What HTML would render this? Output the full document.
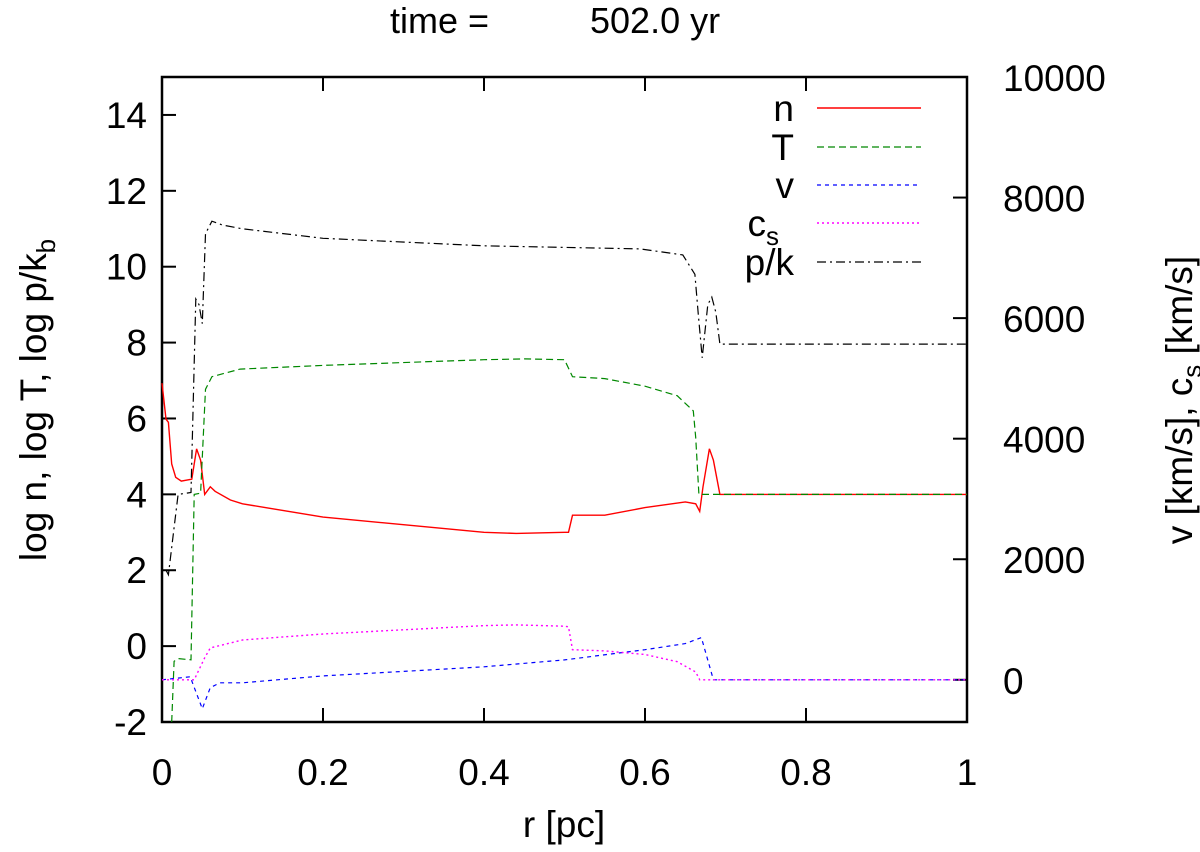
<!DOCTYPE html>
<html><head><meta charset="utf-8"><style>
body{margin:0;background:#fff}
svg text{font-family:"Liberation Sans",sans-serif;fill:#000}
</style></head><body>
<svg width="1200" height="847" xmlns="http://www.w3.org/2000/svg">
<g id="axes"></g>
<g id="series"></g>
<g id="legend"></g>
<text x="390" y="33" font-size="36">time =<tspan x="590">502.0 yr</tspan></text>
<text x="564" y="837" font-size="37" text-anchor="middle">r [pc]</text>
<text transform="translate(46,400) rotate(-90)" font-size="37" text-anchor="middle">log n, log T, log p/k<tspan font-size="26" dy="9">b</tspan></text>
<text transform="translate(1192,400) rotate(-90)" font-size="37" text-anchor="middle">v [km/s], c<tspan font-size="26" dy="9">s</tspan><tspan dy="-9"> [km/s]</tspan></text>
</svg>
<script>
const xTicks=[0,0.2,0.4,0.6,0.8,1];
const xTickLabels=["0","0.2","0.4","0.6","0.8","1"];
const yLeftTicks=[-2,0,2,4,6,8,10,12,14];
const yRightTicks=[0,2000,4000,6000,8000,10000];
const rN=[0,0.005,0.008,0.012,0.017,0.024,0.037,0.043,0.048,0.053,0.06,0.066,0.085,0.1,0.2,0.3,0.4,0.44,0.5,0.505,0.51,0.55,0.6,0.65,0.663,0.668,0.672,0.68,0.685,0.693,1];
const logN=[6.93,5.98,5.9,4.8,4.45,4.35,4.4,5.2,4.9,4.0,4.2,4.08,3.85,3.75,3.4,3.2,3.0,2.97,3.0,3.0,3.45,3.45,3.65,3.8,3.75,3.55,4.2,5.2,4.9,4.0,4.0];
const rT=[0.012,0.015,0.02,0.036,0.04,0.048,0.054,0.062,0.097,0.2,0.4,0.45,0.5,0.51,0.55,0.6,0.64,0.66,0.663,0.667,1];
const logT=[-2,-0.4,-0.33,-0.36,4.0,4.03,6.77,7.1,7.3,7.4,7.55,7.57,7.55,7.1,7.05,6.85,6.6,6.2,5.5,4.0,4.0];
const rV=[0,0.035,0.05,0.06,0.072,0.1,0.2,0.3,0.4,0.5,0.6,0.65,0.67,0.685,1];
const vel=[0,50,-480,-130,-50,-50,65,140,215,330,500,600,700,0,0];
const rC=[0,0.04,0.053,0.06,0.1,0.2,0.3,0.4,0.44,0.5,0.505,0.51,0.55,0.6,0.64,0.663,0.668,1];
const cs=[0,0,365,530,660,760,830,900,910,890,880,500,480,420,300,130,0,0];
const rP=[0.005,0.008,0.02,0.036,0.042,0.046,0.05,0.054,0.062,0.075,0.1,0.2,0.4,0.594,0.647,0.662,0.666,0.671,0.678,0.683,0.688,0.693,1];
const logP=[2.0,1.88,4.0,4.05,9.15,9.0,8.5,10.87,11.2,11.1,11.0,10.75,10.55,10.47,10.31,9.8,8.8,7.6,9.0,9.2,8.8,7.96,7.96];
const seriesNames=["n","T","v","c_s","p/k"];

const X0=162,X1=967,Y0=722,YT=77;
const xs=r=>X0+(X1-X0)*r;
const yl=v=>Y0-(Y0-YT)*(v+2)/17;
const yr=v=>Y0-(Y0-YT)*(v+700)/10700;
const NS="http://www.w3.org/2000/svg";
function mk(tag,attrs,parent){const e=document.createElementNS(NS,tag);for(const k in attrs)e.setAttribute(k,attrs[k]);parent.appendChild(e);return e;}
const axes=document.getElementById('axes');
const frame=mk('rect',{x:X0,y:YT,width:X1-X0,height:Y0-YT,fill:'none',stroke:'#000','stroke-width':2.5},axes);


xTicks.forEach((t,i)=>{const x=xs(t);
 const l=mk('path',{d:`M${x},${Y0}v-14M${x},${YT}v14`,stroke:'#000','stroke-width':2},axes);
 
 
 const tx=mk('text',{x:x,y:Y0+63,'font-size':37,'text-anchor':'middle'},axes);tx.textContent=xTickLabels[i];
 
 });
yLeftTicks.forEach(t=>{const y=yl(t);
 const l=mk('path',{d:`M${X0},${y}h14`,stroke:'#000','stroke-width':2},axes);
 
 
 const tx=mk('text',{x:X0-15,y:y+13,'font-size':37,'text-anchor':'end'},axes);tx.textContent=String(t);
 
 });
yRightTicks.forEach(t=>{const y=yr(t);
 const l=mk('path',{d:`M${X1},${y}h-14`,stroke:'#000','stroke-width':2},axes);
 
 
 const tx=mk('text',{x:X1+36,y:y+14,'font-size':37},axes);tx.textContent=String(t);
 
 });
const ser=document.getElementById('series');
const styles=[['#f00','none',1.4],['#080','7,4',1.2],['#00f','4,4',1.2],['#f0f','2,3',1.4],['#000','9,4,2,4',1.2]];
const defs=[[rN,logN,yl],[rT,logT,yl],[rV,vel,yr],[rC,cs,yr],[rP,logP,yl]];
const names=['series-n','series-t','series-v','series-cs','series-pk'];
defs.forEach((d,i)=>{const [xa,ya,f]=d;
 const pts=xa.map((r,j)=>`${xs(r).toFixed(1)},${Math.min(Y0,f(ya[j])).toFixed(1)}`).join(' ');
 const p=mk('polyline',{points:pts,fill:'none',stroke:styles[i][0],'stroke-width':styles[i][2],'stroke-dasharray':styles[i][1]},ser);
 
 });
const leg=document.getElementById('legend');
const ly=[108,147,185,223,262];
seriesNames.forEach((n,i)=>{
 const l=mk('line',{x1:817,x2:921,y1:ly[i],y2:ly[i],stroke:styles[i][0],'stroke-width':styles[i][2],'stroke-dasharray':styles[i][1]},leg);
 
 
 const t=mk('text',{x:n==='c_s'?779:794,y:ly[i]+13,'font-size':37,'text-anchor':'end'},leg);
 if(n==='c_s'){t.textContent='c';const s=mk('tspan',{'font-size':26,dy:9},t);s.textContent='s';}
 else t.textContent=n;
 
 });
</script>
</body></html>
